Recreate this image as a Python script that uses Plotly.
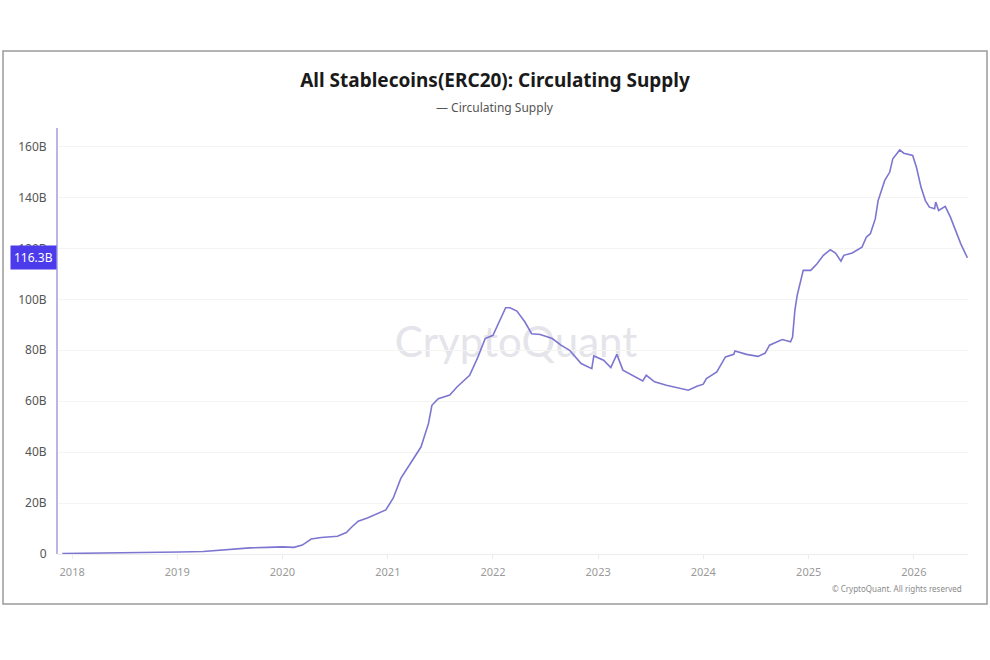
import plotly.graph_objects as go

# ---- data ----
dates = [
    "2017-11-28", "2018-03-01", "2018-06-15", "2018-10-15", "2019-01-10", "2019-04-01",
    "2019-06-01", "2019-07-20", "2019-09-10", "2019-11-10", "2020-01-01", "2020-02-10",
    "2020-03-10", "2020-04-10", "2020-05-15", "2020-07-10", "2020-08-10", "2020-08-28",
    "2020-09-20", "2020-10-22", "2020-12-25", "2021-01-20", "2021-02-15", "2021-03-28",
    "2021-04-26", "2021-05-22", "2021-06-03", "2021-06-25", "2021-08-04", "2021-08-29",
    "2021-10-12", "2021-11-10", "2021-12-05", "2022-01-01", "2022-01-20", "2022-02-14",
    "2022-03-01", "2022-03-25", "2022-04-22", "2022-05-15", "2022-06-14", "2022-07-26",
    "2022-08-25", "2022-09-24", "2022-11-03", "2022-12-10", "2022-12-17", "2023-01-20",
    "2023-02-14", "2023-03-07", "2023-03-28", "2023-04-20", "2023-06-05", "2023-06-17",
    "2023-07-16", "2023-08-26", "2023-10-12", "2023-11-10", "2023-12-10", "2024-01-01",
    "2024-01-12", "2024-02-17", "2024-03-18", "2024-04-16", "2024-04-20", "2024-05-30",
    "2024-07-09", "2024-08-03", "2024-08-18", "2024-10-01", "2024-10-30", "2024-11-06",
    "2024-11-14", "2024-11-22", "2024-12-13", "2025-01-08", "2025-01-30", "2025-02-21",
    "2025-03-17", "2025-04-04", "2025-04-23", "2025-05-03", "2025-06-01", "2025-07-05",
    "2025-07-20", "2025-08-03", "2025-08-20", "2025-08-30", "2025-09-22", "2025-10-09",
    "2025-10-20", "2025-11-13", "2025-11-27", "2025-12-28", "2026-01-10", "2026-01-26",
    "2026-02-10", "2026-02-24", "2026-03-14", "2026-03-18", "2026-03-28", "2026-04-20",
    "2026-05-08", "2026-05-26", "2026-06-13", "2026-07-06",
]
supply_b = [
    0.2, 0.3, 0.3, 0.6, 0.8, 1.0,
    1.5, 2.0, 2.4, 2.6, 2.8, 2.6,
    3.5, 5.9, 6.5, 7.0, 8.4, 10.5,
    12.9, 14.1, 17.3, 22.0, 29.7, 36.9,
    42.0, 51.2, 58.4, 61.0, 62.4, 65.6,
    70.2, 77.4, 84.6, 85.9, 90.5, 96.7,
    96.7, 95.4, 91.1, 86.5, 86.2, 84.6,
    82.0, 80.0, 74.8, 72.8, 77.8, 76.1,
    73.2, 78.4, 72.2, 70.9, 68.0, 70.2,
    67.6, 66.3, 65.0, 64.3, 65.9, 66.7,
    68.9, 71.5, 77.4, 78.4, 79.7, 78.4,
    77.6, 78.9, 82.0, 84.2, 83.3, 85.2,
    95.7, 101.6, 111.4, 111.4, 114.0, 117.3,
    119.5, 118.2, 115.0, 117.3, 118.2, 120.5,
    124.4, 125.8, 131.6, 138.8, 146.7, 149.9,
    155.2, 158.7, 157.4, 156.5, 151.9, 144.0,
    138.8, 136.2, 135.6, 138.2, 134.9, 136.5,
    132.3, 127.1, 121.8, 116.3,
]
y_tick_vals = [0, 20, 40, 60, 80, 100, 120, 140, 160]
y_tick_text = ["0", "20B", "40B", "60B", "80B", "100B", "120B", "140B", "160B"]
x_tick_vals = ["2018-01-01", "2019-01-01", "2020-01-01", "2021-01-01", "2022-01-01",
               "2023-01-01", "2024-01-01", "2025-01-01", "2026-01-01"]
x_tick_text = ["2018", "2019", "2020", "2021", "2022", "2023", "2024", "2025", "2026"]
last_label = "116.3B"

LINE = "#7d76d0"
FONT = "Noto Sans"

fig = go.Figure()
fig.add_trace(go.Scatter(
    x=dates, y=supply_b, mode="lines",
    line=dict(color=LINE, width=1.6),
    name="Circulating Supply", showlegend=False,
    hovertemplate="%{x}<br>%{y:.1f}B<extra></extra>",
))

fig.update_layout(
    width=990, height=660,
    autosize=False,
    paper_bgcolor="white", plot_bgcolor="white",
    margin=dict(l=58, r=22, t=128, b=106),
    font=dict(family=FONT, color="#555555"),
    title=dict(
        text="<b>All Stablecoins(ERC20): Circulating Supply</b>",
        x=0.5, xanchor="center", xref="container",
        y=1 - 80 / 660, yanchor="middle", yref="container",
        font=dict(family=FONT, size=19, color="#1a1a1a"),
    ),
    xaxis=dict(
        type="date",
        range=["2017-11-13", "2026-07-08"],
        tickvals=x_tick_vals, ticktext=x_tick_text,
        showgrid=False, zeroline=False, showline=False,
        ticks="outside", ticklen=4, tickcolor="#ececec",
        tickfont=dict(family=FONT, size=11, color="#9a9a9a"),
        ticklabelstandoff=4,
    ),
    yaxis=dict(
        range=[0, 167.3],
        tickvals=y_tick_vals, ticktext=y_tick_text,
        showgrid=True, gridcolor="#f4f4f0", gridwidth=1,
        zeroline=True, zerolinecolor="#ececec", zerolinewidth=1,
        showline=True, linecolor="#b9b5e6", linewidth=2,
        ticks="", ticklabelstandoff=7,
        tickfont=dict(family=FONT, size=12, color="#555555"),
    ),
)

# outer frame
fig.add_shape(
    type="rect", xref="paper", yref="paper",
    x0=(3 - 58) / 910, x1=(987 - 58) / 910,
    y0=(554 - 604) / 426, y1=(554 - 51) / 426,
    line=dict(color="#9a9a9a", width=1.5), fillcolor="rgba(0,0,0,0)",
    layer="below",
)

# watermark (below the line)
fig.add_shape(
    type="rect", xref="paper", yref="paper",
    x0=(395 - 58) / 910, x1=(637 - 58) / 910,
    y0=(554 - 362) / 426, y1=(554 - 318) / 426,
    line=dict(width=0), fillcolor="rgba(0,0,0,0)", layer="below",
    label=dict(text="CryptoQuant", textposition="middle center",
               font=dict(family="Lato", size=42, color="#e4e4ea")),
)

# legend text
fig.add_annotation(
    xref="paper", yref="paper", x=(495 - 58) / 910, y=(554 - 107) / 426,
    text="— Circulating Supply", showarrow=False,
    xanchor="center", yanchor="middle",
    font=dict(family=FONT, size=12, color="#555555"),
)

# last value badge
fig.add_annotation(
    xref="paper", yref="y", x=0, y=supply_b[-1],
    text=last_label, showarrow=False, xanchor="right", yanchor="middle",
    xshift=-1, bgcolor="#4b3bea", borderpad=3,
    font=dict(family=FONT, size=12, color="white"),
)

# copyright
fig.add_annotation(
    xref="paper", yref="paper", x=(964 - 58) / 910, y=(554 - 588) / 426,
    text="© CryptoQuant. All rights reserved", showarrow=False,
    xanchor="right", yanchor="middle",
    font=dict(family=FONT, size=8, color="#8a8a8a"),
)

fig.write_html("out.html")
